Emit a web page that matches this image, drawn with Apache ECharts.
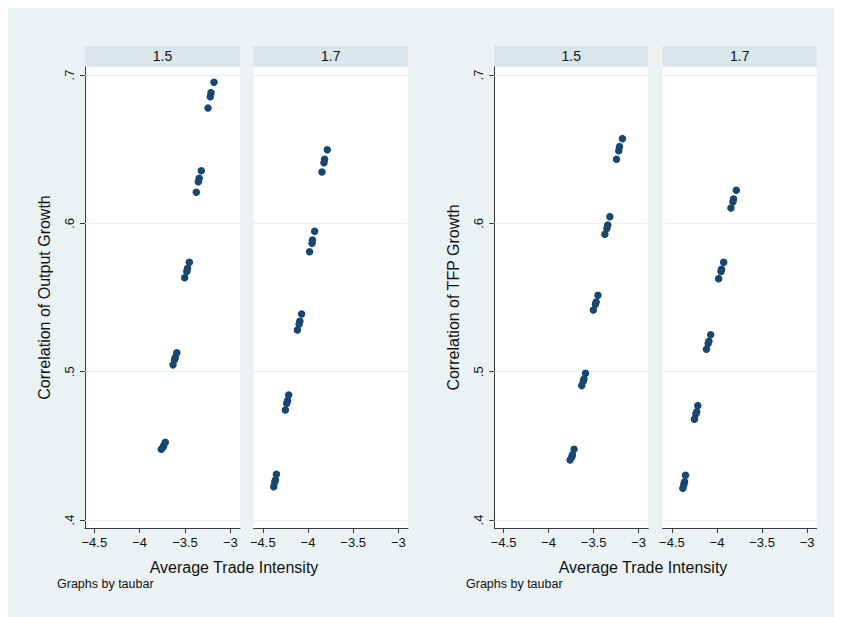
<!DOCTYPE html>
<html>
<head>
<meta charset="utf-8">
<script src="https://cdn.jsdelivr.net/npm/echarts@6/dist/echarts.min.js"></script>
<style>
html,body{margin:0;padding:0;background:#fff;}
#c{width:842px;height:617px;}
</style>
</head>
<body>
<div id="c"></div>
<script>
// Average trade intensity (shared by both graphs), per taubar panel
const xTau15 = [-3.180, -3.213, -3.221, -3.246,
                -3.320, -3.343, -3.353, -3.375,
                -3.452, -3.472, -3.480, -3.503,
                -3.590, -3.607, -3.615, -3.632,
                -3.717, -3.735, -3.742, -3.761];
const xTau17 = [-3.786, -3.816, -3.823, -3.845,
                -3.926, -3.950, -3.955, -3.982,
                -4.070, -4.090, -4.098, -4.117,
                -4.213, -4.225, -4.235, -4.250,
                -4.349, -4.360, -4.368, -4.379];
// Correlation of Output Growth
const outTau15 = [0.6951, 0.6881, 0.6854, 0.6778,
                  0.6355, 0.6304, 0.6280, 0.6209,
                  0.5737, 0.5695, 0.5675, 0.5633,
                  0.5128, 0.5095, 0.5080, 0.5046,
                  0.4524, 0.4500, 0.4490, 0.4477];
const outTau17 = [0.6496, 0.6432, 0.6409, 0.6346,
                  0.5946, 0.5888, 0.5865, 0.5809,
                  0.5389, 0.5340, 0.5320, 0.5281,
                  0.4843, 0.4805, 0.4785, 0.4742,
                  0.4308, 0.4270, 0.4255, 0.4224];
// Correlation of TFP Growth
const tfpTau15 = [0.6571, 0.6517, 0.6490, 0.6432,
                  0.6045, 0.5989, 0.5965, 0.5926,
                  0.5515, 0.5470, 0.5455, 0.5416,
                  0.4989, 0.4950, 0.4935, 0.4906,
                  0.4477, 0.4440, 0.4425, 0.4404];
const tfpTau17 = [0.6223, 0.6164, 0.6146, 0.6103,
                  0.5737, 0.5690, 0.5675, 0.5627,
                  0.5249, 0.5205, 0.5190, 0.5151,
                  0.4771, 0.4730, 0.4715, 0.4679,
                  0.4301, 0.4258, 0.4240, 0.4214];
const xTicks = [-4.5, -4, -3.5, -3];
const yTicks = [0.4, 0.5, 0.6, 0.7];
const panelLabels = ['1.5', '1.7', '1.5', '1.7'];
const yTitles = ['Correlation of Output Growth', 'Correlation of TFP Growth'];
const xTitle = 'Average Trade Intensity';
const note = 'Graphs by taubar';

const FONT = 'Liberation Sans, Arial, Helvetica, sans-serif';
const NAVY = '#1a476f';
const AX = '#3a3a3a';
const BG = '#eaf2f3';
const STRIP = '#d9e6eb';
const GRIDC = '#e6eff1';

const panels = [
  {left: 85, right: 240, xs: xTau15, ys: outTau15},
  {left: 253.5, right: 408, xs: xTau17, ys: outTau17},
  {left: 494.3, right: 648.3, xs: xTau15, ys: tfpTau15},
  {left: 662.7, right: 816.7, xs: xTau17, ys: tfpTau17}
];
const TOP = 67, BOTTOM = 528;
const XMIN = -4.6026, XMAX = -2.893;
const YMIN = 0.3946, YMAX = 0.7054;

const fmtX = v => (v < 0 ? '\u2212' : '') + Math.abs(v);
const fmtY = v => '.' + Math.round(v * 10);

const grid = [], xAxis = [], yAxis = [], series = [], graphic = [];

graphic.push({type: 'rect', z: -10, shape: {x: 8, y: 8, width: 826, height: 609}, style: {fill: BG}});

panels.forEach((p, i) => {
  grid.push({left: p.left, top: TOP, width: p.right - p.left, height: BOTTOM - TOP,
    show: true, backgroundColor: '#fff', borderWidth: 0, containLabel: false});
  xAxis.push({
    gridIndex: i, type: 'value', min: XMIN, max: XMAX,
    axisLine: {show: true, onZero: false, lineStyle: {color: AX, width: 1}},
    axisTick: {show: true, customValues: xTicks, length: 5, lineStyle: {color: AX}},
    axisLabel: {customValues: xTicks, formatter: fmtX, fontSize: 13, color: '#111', margin: 8, fontFamily: FONT},
    splitLine: {show: false}
  });
  const showY = (i % 2 === 0);
  yAxis.push({
    gridIndex: i, type: 'value', min: YMIN, max: YMAX, show: showY,
    axisLine: {show: showY, onZero: false, lineStyle: {color: AX, width: 1}},
    axisTick: {show: showY, customValues: yTicks, length: 5, lineStyle: {color: AX}},
    axisLabel: {show: showY, customValues: yTicks, formatter: fmtY, rotate: 90, fontSize: 13, color: '#111', margin: 9, fontFamily: FONT},
    splitLine: {show: false}
  });
  series.push({
    type: 'scatter', xAxisIndex: i, yAxisIndex: i,
    data: p.xs.map((x, k) => [x, p.ys[k]]),
    symbol: 'circle', symbolSize: 7.5,
    itemStyle: {color: NAVY, opacity: 1},
    z: 5,
    markLine: {
      silent: true, symbol: 'none', label: {show: false},
      lineStyle: {color: GRIDC, type: 'solid', width: 1.2},
      emphasis: {disabled: true},
      animation: false,
      data: yTicks.map(v => ({yAxis: v}))
    }
  });
  // strip header
  graphic.push({type: 'rect', shape: {x: p.left, y: 46, width: p.right - p.left, height: 20.5}, style: {fill: STRIP}});
  graphic.push({type: 'text', x: (p.left + p.right) / 2, y: 56,
    style: {text: panelLabels[i], fontSize: 14, fontFamily: FONT, fill: '#111', align: 'center', verticalAlign: 'middle'}});
});

// titles
[[44, 297.5, yTitles[0]], [453, 297.5, yTitles[1]]].forEach(t => {
  graphic.push({type: 'text', x: t[0], y: t[1], rotation: Math.PI / 2,
    style: {text: t[2], fontSize: 16, fontFamily: FONT, fill: '#111', align: 'center', verticalAlign: 'middle'}});
});
[[234, 567], [643, 567]].forEach(t => {
  graphic.push({type: 'text', x: t[0], y: t[1],
    style: {text: xTitle, fontSize: 16, fontFamily: FONT, fill: '#111', align: 'center', verticalAlign: 'middle'}});
});
[[57, 583.5], [466, 583.5]].forEach(t => {
  graphic.push({type: 'text', x: t[0], y: t[1],
    style: {text: note, fontSize: 12.5, fontFamily: FONT, fill: '#111', align: 'left', verticalAlign: 'middle'}});
});

const chart = echarts.init(document.getElementById('c'), null, {renderer: 'svg'});
chart.setOption({
  animation: false,
  backgroundColor: '#fff',
  grid, xAxis, yAxis, series, graphic
});
</script>
</body>
</html>
